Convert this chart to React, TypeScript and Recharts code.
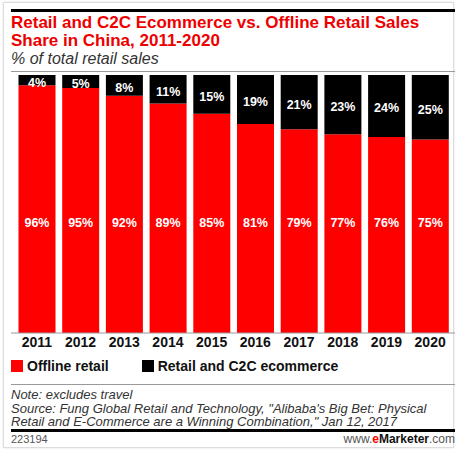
import { BarChart, Bar, XAxis, YAxis, Legend, LabelList } from "recharts";

const years = ["2011", "2012", "2013", "2014", "2015", "2016", "2017", "2018", "2019", "2020"];
const offlineRetail = [96, 95, 92, 89, 85, 81, 79, 77, 76, 75];
const c2cEcommerce = [4, 5, 8, 11, 15, 19, 21, 23, 24, 25];

const data = years.map((year, i) => ({ year, offline: offlineRetail[i], ecommerce: c2cEcommerce[i] }));

const FONT = '"Liberation Sans", Arial, sans-serif';
const RED = "#ff0000";

const pct = (v: any) => `${v}%`;

function LegendContent({ payload }: any) {
  return (
    <div style={{ display: "flex", height: 18, alignItems: "center", fontFamily: FONT, fontSize: 14, fontWeight: "bold", color: "#111" }}>
      {(payload || []).map((p: any, i: number) => (
        <div key={i} style={{ display: "flex", alignItems: "center", marginRight: 33 }}>
          <span style={{ display: "inline-block", width: 12, height: 12, background: p.color, marginRight: 4 }} />
          <span>{p.value}</span>
        </div>
      ))}
    </div>
  );
}

export default function App() {
  return (
    <div style={styles.page}>
      <div style={styles.card} />
      <div style={{ ...styles.rule, top: 9, height: 3, background: "#000" }} />
      <div style={styles.title}>
        <div>Retail and C2C Ecommerce vs. Offline Retail Sales</div>
        <div>Share in China, 2011-2020</div>
      </div>
      <div style={styles.subtitle}>% of total retail sales</div>
      <div style={{ ...styles.rule, top: 71, height: 1, background: "#999" }} />

      <div style={{ position: "absolute", left: 0, top: 0 }}>
        <BarChart width={463} height={456} data={data} margin={{ top: 75, right: 8, left: 11, bottom: 81 }} barCategoryGap="8%">
          <YAxis hide domain={[0, 100]} />
          <XAxis
            dataKey="year"
            height={24}
            tickLine={false}
            tickSize={0}
            tickMargin={4}
            padding={{ left: 4, right: 3 }}
            axisLine={{ stroke: "#999" }}
            tick={{ fill: "#111", fontSize: 14, fontWeight: "bold", fontFamily: FONT }}
          />
          <Legend verticalAlign="bottom" align="left" content={<LegendContent />} />
          <Bar dataKey="offline" name="Offline retail" stackId="a" fill={RED} isAnimationActive={false}>
            <LabelList dataKey="offline" position="insideBottom" offset={106} formatter={pct}
              fill="#fff" fontSize={12.5} fontWeight="bold" fontFamily={FONT} />
          </Bar>
          <Bar dataKey="ecommerce" name="Retail and C2C ecommerce" stackId="a" fill="#000" isAnimationActive={false}>
            <LabelList dataKey="ecommerce" position="center" formatter={pct} dy={2}
              fill="#fff" fontSize={12.5} fontWeight="bold" fontFamily={FONT} />
          </Bar>
        </BarChart>
      </div>

      <div style={{ ...styles.rule, top: 384, height: 1, background: "#999" }} />
      <div style={styles.notes}>
        <div>Note: excludes travel</div>
        <div>Source: Fung Global Retail and Technology, "Alibaba's Big Bet: Physical</div>
        <div>Retail and E-Commerce are a Winning Combination," Jan 12, 2017</div>
      </div>
      <div style={{ ...styles.rule, top: 429, height: 3, background: "#000" }} />
      <div style={styles.id}>223194</div>
      <div style={styles.brand}>
        www.<span style={{ color: RED, fontWeight: "bold" }}>e</span>
        <span style={{ color: "#111", fontWeight: "bold" }}>Marketer</span>.com
      </div>
    </div>
  );
}

const styles: Record<string, React.CSSProperties> = {
  page: { position: "absolute", left: 0, top: 0, width: 463, height: 456, background: "#fff", fontFamily: FONT, overflow: "hidden" },
  card: { position: "absolute", left: 3, top: 2, width: 451, height: 446, border: "1px solid #ddd", boxShadow: "0 0 2px rgba(0,0,0,0.12)", boxSizing: "border-box" },
  rule: { position: "absolute", left: 11, width: 444 },
  title: { position: "absolute", left: 11, top: 14, fontSize: 17, lineHeight: "18px", fontWeight: "bold", color: "#ee0000", whiteSpace: "nowrap" },
  subtitle: { position: "absolute", left: 11, top: 51, fontSize: 16, lineHeight: "16px", fontStyle: "italic", color: "#333", whiteSpace: "nowrap" },
  notes: { position: "absolute", left: 11, top: 388, fontSize: 13, lineHeight: "13.5px", fontStyle: "italic", color: "#333", whiteSpace: "nowrap" },
  id: { position: "absolute", left: 11, top: 434, fontSize: 11, lineHeight: "11px", color: "#555" },
  brand: { position: "absolute", right: 8, top: 433, fontSize: 12, lineHeight: "12px", color: "#555", whiteSpace: "nowrap" },
};
